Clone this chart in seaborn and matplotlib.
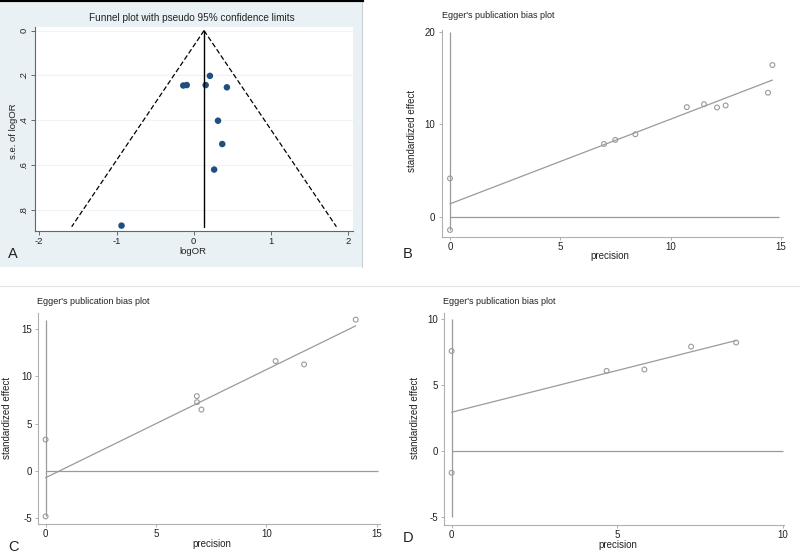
import seaborn as sns
import pandas as pd
import numpy as np
import matplotlib.pyplot as plt

# ---- data ----
# A: funnel plot
funnel_logor = [0.21, -0.135, -0.09, 0.155, 0.43, 0.315, 0.37, 0.265, -0.935]
funnel_se = [0.202, 0.245, 0.243, 0.243, 0.253, 0.402, 0.506, 0.62, 0.87]
pooled_logor = 0.134
funnel_se_max = 0.875

# B: Egger plot
prec_b = [0, 0, 6.98, 7.49, 8.40, 10.73, 11.51, 12.10, 12.49, 14.41, 14.61]
eff_b = [4.13, -1.45, 7.86, 8.30, 8.91, 11.85, 12.17, 11.81, 12.03, 13.41, 16.41]
intercept_b, slope_b = 1.38, 0.917
ci_b = [-1.45, 20]

# C: Egger plot
prec_c = [0, 0, 6.85, 6.86, 7.06, 10.42, 11.71, 14.05]
eff_c = [3.32, -4.8, 7.91, 7.27, 6.49, 11.61, 11.26, 15.99]
intercept_c, slope_c = -0.71, 1.142
ci_c = [-4.8, 15.95]

# D: Egger plot
prec_d = [0, 0, 4.68, 5.82, 7.23, 8.59]
eff_d = [7.59, -1.65, 6.08, 6.18, 7.92, 8.23]
intercept_d, slope_d = 2.94, 0.634
ci_d = [-5, 10]

W, H = 800, 554
sns.set_style('white')
plt.rcParams['font.family'] = ['Liberation Sans', 'DejaVu Sans']
plt.rcParams['axes.unicode_minus'] = False

fig = plt.figure(figsize=(W / 100, H / 100), dpi=100)


def px_axes(l, t, r, b, **kw):
    return fig.add_axes([l / W, 1 - b / H, (r - l) / W, (b - t) / H], **kw)


def px_text(x, y, s, **kw):
    fig.text(x / W, 1 - y / H, s, **kw)


GRAY = '#9a9a9a'
TXT = '#222222'

# background of panel A
bg = px_axes(0, 0, 362, 267)
bg.set_facecolor('#e9f1f4')
bg.set_xticks([])
bg.set_yticks([])
for s in ['left', 'bottom']:
    bg.spines[s].set_visible(False)
bg.spines['right'].set_color('#c9d3d6')
bg.spines['top'].set_color('black')
bg.spines['top'].set_linewidth(3)
# thin divider between rows
fig.add_artist(plt.Line2D([0, 1], [1 - 286 / H, 1 - 286 / H], color='#e3e3e3', lw=0.8))

# ---- panel A ----
ax = px_axes(35, 27, 352.7, 231)
ax.set_facecolor('white')
ax.set_xlim(-2.056, 2.06)
ax.set_ylim(0.894, -0.016)
ax.set_yticks([0, 0.2, 0.4, 0.6, 0.8])
ax.set_yticklabels(['0', '.2', '.4', '.6', '.8'], rotation=90, va='center', ha='center')
ax.set_xticks([-2, -1, 0, 1, 2])
for y in [0, 0.2, 0.4, 0.6, 0.8]:
    ax.axhline(y, color='#eef3f5', lw=0.8, zorder=0)
se_line = np.array([0, funnel_se_max])
funnel_df = pd.DataFrame({
    'se': np.concatenate([se_line, se_line]),
    'x': np.concatenate([pooled_logor - 1.96 * se_line, pooled_logor + 1.96 * se_line]),
    'side': ['lo', 'lo', 'hi', 'hi'],
})
sns.lineplot(data=funnel_df, x='x', y='se', units='side', estimator=None, sort=False,
             color='black', lw=0.9, linestyle=(0, (4, 2)), ax=ax)
sns.lineplot(x=[pooled_logor, pooled_logor], y=se_line, sort=False, estimator=None,
             color='black', lw=1.0, ax=ax)
sns.scatterplot(x=funnel_logor, y=funnel_se, color='#1f4f80', s=22, edgecolor='none', ax=ax)
for s in ['top', 'right']:
    ax.spines[s].set_visible(False)
for s in ['left', 'bottom']:
    ax.spines[s].set_color('#666666')
    ax.spines[s].set_linewidth(0.8)
ax.tick_params(axis='both', direction='out', length=3, width=0.7, color='#666666',
               labelsize=6.8, labelcolor=TXT, pad=1, left=True, bottom=True)
ax.tick_params(axis='y', pad=5)
ax.set_xlabel('')
ax.set_ylabel('')
px_text(192, 18, 'Funnel plot with pseudo 95% confidence limits', ha='center', va='center',
        fontsize=7.2, color=TXT)
px_text(193, 251.5, 'logOR', ha='center', va='center', fontsize=6.8, color=TXT)
px_text(13, 131, 's.e. of logOR', ha='center', va='center', rotation=90, fontsize=6.8, color=TXT)
px_text(8, 254, 'A', ha='left', va='center', fontsize=10.5, color=TXT)


# ---- Egger panels ----
def egger(box, xlim, ylim, xticks, yticks, prec, eff, icpt, slope, ci, xend):
    ax = px_axes(*box)
    ax.set_facecolor('white')
    ax.set_xlim(*xlim)
    ax.set_ylim(*ylim)
    ax.set_xticks(xticks)
    ax.set_yticks(yticks)
    fit_x = np.array([0, max(prec)])
    sns.lineplot(x=fit_x, y=icpt + slope * fit_x, color=GRAY, lw=0.9, ax=ax)
    ax.hlines(0, 0, xend, color=GRAY, lw=0.9)
    ax.vlines(0, ci[0], ci[1], color=GRAY, lw=0.9)
    sns.scatterplot(x=prec, y=eff, marker='o', s=12, facecolor='none',
                    edgecolor=GRAY, linewidth=0.8, ax=ax)
    for s in ['top', 'right']:
        ax.spines[s].set_visible(False)
    for s in ['left', 'bottom']:
        ax.spines[s].set_color('#b0b0b0')
        ax.spines[s].set_linewidth(0.8)
    ax.tick_params(axis='both', direction='out', length=2.5, width=0.7, color='#b0b0b0',
                   labelsize=7, labelcolor=TXT, pad=1, left=True, bottom=True)
    ax.tick_params(axis='y', pad=2)
    return ax


egger((441.7, 30, 783, 237), (-0.376, 15.09), (-2.21, 20.2), [0, 5, 10, 15], [0, 10, 20],
      prec_b, eff_b, intercept_b, slope_b, ci_b, 14.92)
px_text(441.7, 15, "Egger's publication bias plot", ha='left', va='center', fontsize=6.5, color=TXT)
px_text(610, 256, 'precision', ha='center', va='center', fontsize=7, color=TXT)
px_text(412, 131, 'standardized effect', ha='center', va='center', rotation=90, fontsize=7, color=TXT)
px_text(403, 254, 'B', ha='left', va='center', fontsize=10.5, color=TXT)

egger((38.3, 313.3, 380, 524), (-0.33, 15.15), (-5.6, 16.66), [0, 5, 10, 15], [-5, 0, 5, 10, 15],
      prec_c, eff_c, intercept_c, slope_c, ci_c, 15.05)
px_text(37, 302, "Egger's publication bias plot", ha='left', va='center', fontsize=6.5, color=TXT)
px_text(212, 544, 'precision', ha='center', va='center', fontsize=7, color=TXT)
px_text(7, 418, 'standardized effect', ha='center', va='center', rotation=90, fontsize=7, color=TXT)
px_text(8, 547, 'C', ha='left', va='center', fontsize=10.5, color=TXT)

egger((444, 313.3, 783.5, 525), (-0.23, 10.02), (-5.62, 10.45), [0, 5, 10], [-5, 0, 5, 10],
      prec_d, eff_d, intercept_d, slope_d, ci_d, 10)
px_text(443, 302, "Egger's publication bias plot", ha='left', va='center', fontsize=6.5, color=TXT)
px_text(618, 544.5, 'precision', ha='center', va='center', fontsize=7, color=TXT)
px_text(415, 418, 'standardized effect', ha='center', va='center', rotation=90, fontsize=7, color=TXT)
px_text(403, 538, 'D', ha='left', va='center', fontsize=10.5, color=TXT)

fig.savefig('out.png', dpi=100)
